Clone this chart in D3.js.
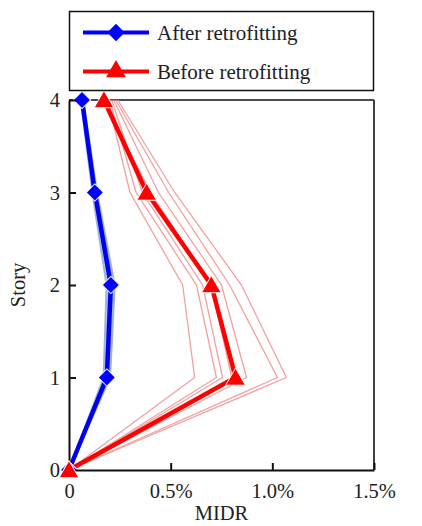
<!DOCTYPE html>
<html>
<head>
<meta charset="utf-8">
<script src="https://cdn.jsdelivr.net/npm/d3@7"></script>
<style>
  html, body { margin: 0; padding: 0; background: #fff; }
  svg { display: block; }
  text { font-family: "Liberation Serif", "Times New Roman", serif; fill: #222; }
</style>
</head>
<body>
<script>
// Story levels (0 = base)
const stories = [0, 1, 2, 3, 4];

// Mean MIDR profiles (%)
const afterMean  = [0, 0.186, 0.206, 0.127, 0.064];
const beforeMean = [0, 0.819, 0.700, 0.382, 0.172];

// Individual ground-motion records, before retrofitting (%)
const beforeRecords = [
  [0, 0.618, 0.559, 0.300, 0.190],
  [0, 0.725, 0.627, 0.330, 0.200],
  [0, 0.755, 0.657, 0.360, 0.210],
  [0, 0.873, 0.750, 0.440, 0.220],
  [0, 1.025, 0.790, 0.490, 0.230],
  [0, 1.069, 0.848, 0.520, 0.240],
  [0, 0.800, 0.700, 0.400, 0.170]
];

// Individual ground-motion records, after retrofitting (%)
const afterRecords = [
  [0, 0.170, 0.185, 0.115, 0.058],
  [0, 0.178, 0.195, 0.120, 0.060],
  [0, 0.183, 0.202, 0.125, 0.062],
  [0, 0.190, 0.210, 0.130, 0.066],
  [0, 0.196, 0.218, 0.134, 0.068],
  [0, 0.202, 0.225, 0.138, 0.070],
  [0, 0.186, 0.206, 0.127, 0.064]
];

const xTicks = [0, 0.5, 1.0, 1.5];
const xTickLabels = ["0", "0.5%", "1.0%", "1.5%"];
const yTicks = [0, 1, 2, 3, 4];

const legendItems = ["After retrofitting", "Before retrofitting"];

const W = 422, H = 526;
const margin = { left: 69, right: 48, top: 100, bottom: 56 };
const FS = 20.5;

const svg = d3.select("body").append("svg").attr("width", W).attr("height", H);

const x = d3.scaleLinear().domain([0, 1.5]).range([margin.left, W - margin.right]);
const y = d3.scaleLinear().domain([0, 4]).range([H - margin.bottom, margin.top]);

const line = d3.line()
  .x(d => x(d[0]))
  .y(d => y(d[1]));

const pairs = vals => vals.map((v, i) => [v, stories[i]]);

// Plot frame: top and right borders
svg.append("line")
  .attr("x1", x(0)).attr("x2", x(1.5)).attr("y1", y(4)).attr("y2", y(4))
  .attr("stroke", "#111").attr("stroke-width", 1.6);
svg.append("line")
  .attr("x1", x(1.5)).attr("x2", x(1.5)).attr("y1", y(4)).attr("y2", y(0))
  .attr("stroke", "#111").attr("stroke-width", 1.6);

// Individual records
const plot = svg.append("g");
plot.selectAll(".rec-before").data(beforeRecords).join("path")
  .attr("class", "rec-before")
  .attr("d", d => line(pairs(d)))
  .attr("fill", "none").attr("stroke", "#f4a0a0").attr("stroke-width", 1.3);

plot.selectAll(".rec-after").data(afterRecords).join("path")
  .attr("class", "rec-after")
  .attr("d", d => line(pairs(d)))
  .attr("fill", "none").attr("stroke", "#9db4e0").attr("stroke-width", 2);

// Mean lines
plot.append("path").attr("d", line(pairs(beforeMean)))
  .attr("fill", "none").attr("stroke", "#ff0000").attr("stroke-width", 4.5);
plot.append("path").attr("d", line(pairs(afterMean)))
  .attr("fill", "none").attr("stroke", "#0000ee").attr("stroke-width", 4.5);

// Marker shapes
const diamond = d3.symbol().type(d3.symbolSquare).size(150)();
const triangle = d3.symbol().type(d3.symbolTriangle).size(170)();

plot.selectAll(".mk-after").data(pairs(afterMean)).join("path")
  .attr("class", "mk-after")
  .attr("d", diamond)
  .attr("transform", d => `translate(${x(d[0])},${y(d[1])}) rotate(45)`)
  .attr("fill", "#0000ff").attr("stroke", "#fff").attr("stroke-width", 1);

plot.selectAll(".mk-before").data(pairs(beforeMean)).join("path")
  .attr("class", "mk-before")
  .attr("d", triangle)
  .attr("transform", d => `translate(${x(d[0])},${y(d[1]) + 2})`)
  .attr("fill", "#ff0000").attr("stroke", "#fff").attr("stroke-width", 1);

// Axes
const xAxis = d3.axisBottom(x).tickValues(xTicks)
  .tickFormat((d, i) => xTickLabels[i]).tickSizeInner(-7).tickSizeOuter(0).tickPadding(13);
const gx = svg.append("g").attr("transform", `translate(0,${y(0)})`).call(xAxis);
gx.select(".domain").attr("stroke", "#111").attr("stroke-width", 2);
gx.selectAll(".tick line").attr("stroke", "#111").attr("stroke-width", 2);
gx.selectAll(".tick text").attr("font-size", FS).attr("font-family", "Liberation Serif").attr("fill", "#222");

const yAxis = d3.axisLeft(y).tickValues(yTicks).tickFormat(d3.format("d"))
  .tickSizeInner(-7).tickSizeOuter(0).tickPadding(9);
const gy = svg.append("g").attr("transform", `translate(${x(0)},0)`).call(yAxis);
gy.select(".domain").attr("stroke", "#111").attr("stroke-width", 2);
gy.selectAll(".tick line").attr("stroke", "#111").attr("stroke-width", 2);
gy.selectAll(".tick text").attr("font-size", FS).attr("font-family", "Liberation Serif").attr("fill", "#222");

// Redraw origin marker above the axes
svg.append("path").attr("d", triangle)
  .attr("transform", `translate(${x(beforeMean[0])},${y(stories[0]) + 2})`)
  .attr("fill", "#ff0000").attr("stroke", "#fff").attr("stroke-width", 1);

// Axis titles
svg.append("text").attr("x", (x(0) + x(1.5)) / 2).attr("y", 520)
  .attr("text-anchor", "middle").attr("font-size", FS).text("MIDR");
svg.append("text")
  .attr("transform", `translate(25,${(y(0) + y(4)) / 2}) rotate(-90)`)
  .attr("text-anchor", "middle").attr("font-size", FS).text("Story");

// Legend
const lg = svg.append("g");
lg.append("rect").attr("x", 69.5).attr("y", 11.5).attr("width", 304).attr("height", 79)
  .attr("fill", "#fff").attr("stroke", "#111").attr("stroke-width", 1.5);
const legendColors = ["#0000ff", "#ff0000"];
const legendShapes = [diamond, triangle];
legendItems.forEach((name, i) => {
  const cy = 32.5 + i * 39;
  lg.append("line").attr("x1", 83).attr("x2", 149).attr("y1", cy).attr("y2", cy)
    .attr("stroke", legendColors[i]).attr("stroke-width", 4);
  lg.append("path").attr("d", legendShapes[i])
    .attr("transform", i === 0 ? `translate(116,${cy}) rotate(45)` : `translate(116,${cy})`)
    .attr("fill", legendColors[i]);
  lg.append("text").attr("x", 157).attr("y", cy + 7.5).attr("font-size", 21).text(name);
});
</script>
</body>
</html>
